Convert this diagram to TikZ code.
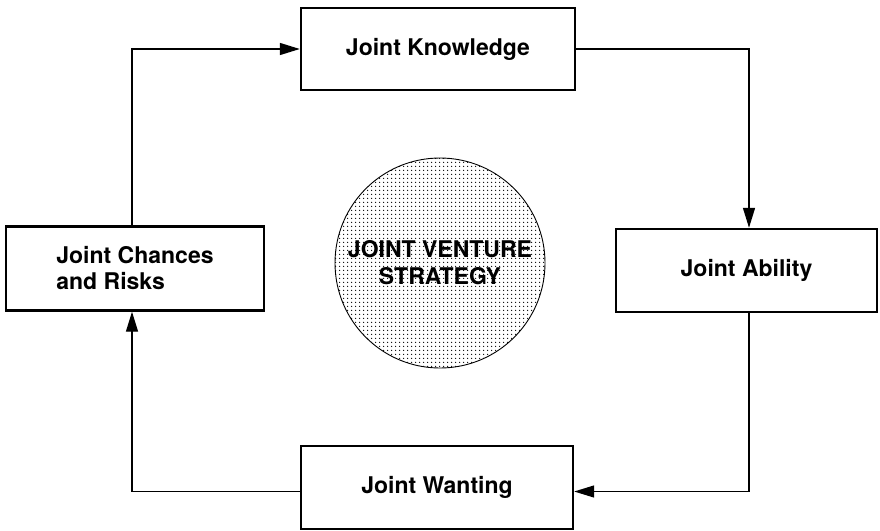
\documentclass[tikz,border=0pt]{standalone}
\usepackage{fontspec}
\setmainfont{TeX Gyre Heros}
\usetikzlibrary{arrows.meta,patterns.meta}
\begin{document}
\begin{tikzpicture}[x=1pt,y=-1pt,
  box/.style={draw, line width=2.4pt, rectangle, inner sep=0pt,
    font=\fontsize{23}{25}\selectfont\bfseries},
  arr/.style={line width=1.4pt, -{Triangle[length=20pt,width=12pt]}},
]
\fill[white] (0,0) rectangle (880,530);
\useasboundingbox (0,0) rectangle (880,530);

\node[box, minimum width=274pt, minimum height=82pt] (know) at (438,49) {\raisebox{4pt}{Joint Knowledge}};
\node[box, minimum width=261pt, minimum height=83pt] (abil) at (746.5,270.5) {Joint Ability};
\node[box, minimum width=258pt, minimum height=84pt, align=left,
      font=\fontsize{23}{26}\selectfont\bfseries] (chance) at (135,268.5) {Joint Chances\\and Risks};
\node[box, minimum width=272pt, minimum height=83pt] (want) at (437,487.5) {Joint Wanting};

\node[circle, draw, line width=0.9pt, minimum size=210pt, inner sep=0pt,
      pattern={Dots[distance=4pt, radius=0.85pt]}, align=center,
      font=\fontsize{23}{27}\selectfont\bfseries] (jv) at (440,263) {JOINT VENTURE\\STRATEGY};

\draw[arr] ([xshift=-3pt]chance.north) |- (know.west);
\draw[arr] (know.east) -| ([xshift=2.5pt]abil.north);
\draw[arr] ([xshift=2.5pt]abil.south) |- ([yshift=-4pt]want.east);
\draw[arr] ([yshift=-4pt]want.west) -| ([xshift=-3pt]chance.south);
\end{tikzpicture}
\end{document}
